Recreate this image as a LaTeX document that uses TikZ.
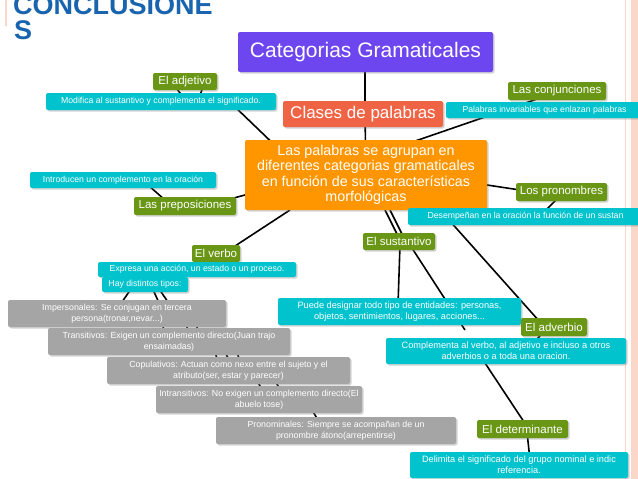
\documentclass[tikz,border=0pt]{standalone}
\usepackage{fontspec}
\setmainfont{Liberation Sans}
\usetikzlibrary{shadows}
\definecolor{tblue}{RGB}{25,100,175}
\definecolor{purp}{RGB}{110,70,240}
\definecolor{redor}{RGB}{240,100,70}
\definecolor{orng}{RGB}{255,150,0}
\definecolor{grn}{RGB}{105,150,20}
\definecolor{cyn}{RGB}{0,195,205}
\definecolor{gry}{RGB}{165,165,165}
\definecolor{pnk}{RGB}{250,215,200}
\begin{document}
\begin{tikzpicture}[x=1pt,y=-1pt,
 bx/.style={rounded corners=2pt,drop shadow={shadow xshift=1.5pt,shadow yshift=-1.5pt,opacity=.35},text=white,align=center,inner sep=0pt},
 gbox/.style={bx,fill=grn,font=\fontsize{11.5}{12}\selectfont},
 cbox/.style={bx,fill=cyn,font=\fontsize{8.7}{10}\selectfont},
 grbox/.style={bx,fill=gry,font=\fontsize{8.8}{11}\selectfont},
 ln/.style={line width=1.6pt,black}]
\useasboundingbox (0,0) rectangle (638,479);
\clip (0,0) rectangle (638,479);
\fill[white] (0,0) rectangle (638,479);
\fill[pnk] (631,0) rectangle (638,479);
\draw[pnk,line width=0.8pt] (625,0) -- (625,479);
\draw[pnk,line width=1.2pt] (6,0) -- (6,26);
\node[anchor=south west,text=tblue,font=\bfseries\fontsize{27}{28}\selectfont,inner sep=0pt] (t1) at (13,15) {CONCLUSIONE};
\node[anchor=north west,text=tblue,font=\bfseries\fontsize{27}{28}\selectfont,inner sep=0pt] (t2) at (14,20) {S};
\newcommand\bxn[6]{\node[#1,minimum width={#4-#2},minimum height={#5-#3}] (#6) at ({(#2+#4)/2},{(#3+#5)/2})}
\coordinate (pc) at (365,52);
\coordinate (cc) at (365,114);
\coordinate (oc) at (366,175);
\draw[ln] (pc) -- (cc) -- (oc);
\draw[ln] (285,155) -- (232,104);
\draw[ln] (172,82) -- (185,100);\draw[ln] (205,82) -- (198,100);
\draw[ln] (395,148) -- (540,98);
\draw[ln] (245,195) -- (215,203);
\draw[ln] (140,178) -- (165,200);
\draw[ln] (487,185) -- (520,190);
\draw[ln] (560,196) -- (542,214);
\draw[ln] (290,210) -- (232,248);
\draw[ln] (385,210) -- (400,240);\draw[ln] (390,210) -- (405,240);
\draw[ln] (400,245) -- (398,305);
\draw[ln] (410,245) -- (465,330);
\draw[ln] (440,210) -- (540,322);
\draw[ln] (545,330) -- (532,345);
\draw[ln] (483,360) -- (528,428);
\draw[ln] (527,432) -- (530,460);
\draw[ln] (135,283) -- (120,305);\draw[ln] (150,283) -- (160,305);\draw[ln] (155,283) -- (170,305);
\draw[ln] (162,322) -- (165,335);\draw[ln] (185,322) -- (190,335);\draw[ln] (195,322) -- (200,335);
\draw[ln] (215,352) -- (218,362);\draw[ln] (225,352) -- (230,362);\draw[ln] (237,352) -- (240,362);
\draw[ln] (257,380) -- (262,390);\draw[ln] (275,380) -- (280,390);
\draw[ln] (312,410) -- (318,420);
\bxn{bx,fill=purp,font=\fontsize{21}{23}\selectfont}{238}{32}{493}{72}{cat} {Categorias Gramaticales};
\bxn{bx,fill=redor,font=\fontsize{17}{19}\selectfont}{283}{101}{443}{127}{cla} {Clases de palabras};
\bxn{bx,fill=orng,font=\fontsize{14.3}{15.5}\selectfont}{245}{140}{487}{210}{org} {Las palabras se agrupan en\\diferentes categorias gramaticales\\en función de sus características\\morfológicas};
\bxn{gbox}{153}{73}{217}{90}{adj} {El adjetivo};
\bxn{cbox}{46}{93}{276}{110}{adjd} {Modifica al sustantivo y complementa el significado.};
\bxn{gbox}{508}{82}{606}{100}{con} {Las conjunciones};
\bxn{cbox}{446}{102}{640}{118}{cond} {\hspace*{3pt}Palabras invariables que enlazan palabras\hfill};
\bxn{cbox}{30}{172}{216}{188}{pred} {Introducen un complemento en la oración};
\bxn{gbox}{134}{197}{236}{215}{pre} {Las preposiciones};
\bxn{gbox}{516}{183}{607}{201}{pro} {Los pronombres};
\bxn{cbox}{408}{208}{640}{225}{prod} {\hspace*{3pt}Desempeñan en la oración la función de un sustan\hfill};
\bxn{gbox}{192}{245}{240}{262}{ver} {El verbo};
\bxn{cbox}{98}{262}{296}{277}{verd} {Expresa una acción, un estado o un proceso.};
\bxn{cbox}{102}{277}{188}{292}{hay} {Hay distintos tipos:};
\bxn{grbox}{8}{300}{226}{327}{g1} {Impersonales: Se conjugan en tercera\\persona(tronar,nevar...)};
\bxn{grbox}{48}{328}{290}{355}{g2} {Transitivos: Exigen un complemento directo(Juan trajo\\ensaimadas)};
\bxn{grbox}{107}{357}{350}{384}{g3} {Copulativos: Actuan como nexo entre el sujeto y el\\atributo(ser, estar y parecer)};
\bxn{grbox}{156}{386}{362}{413}{g4} {Intransitivos: No exigen un complemento directo(El\\abuelo tose)};
\bxn{grbox}{216}{417}{456}{444}{g5} {Pronominales: Siempre se acompañan de un\\pronombre átono(arrepentirse)};
\bxn{gbox}{363}{233}{435}{250}{sus} {El sustantivo};
\bxn{cbox,font=\fontsize{9.2}{11}\selectfont}{278}{298}{521}{325}{susd} {Puede designar todo tipo de entidades: personas,\\objetos, sentimientos, lugares, acciones...};
\bxn{gbox}{521}{318}{587}{336}{adv} {El adverbio};
\bxn{cbox,font=\fontsize{9.2}{11}\selectfont}{386}{338}{626}{364}{advd} {Complementa al verbo, al adjetivo e incluso a otros\\adverbios o a toda una oracion.};
\bxn{gbox}{477}{420}{568}{438}{det} {El determinante};
\bxn{cbox,font=\fontsize{9.2}{11}\selectfont}{410}{452}{628}{478}{detd} {Delimita el significado del grupo nominal e indic\\referencia.};
\end{tikzpicture}
\end{document}
